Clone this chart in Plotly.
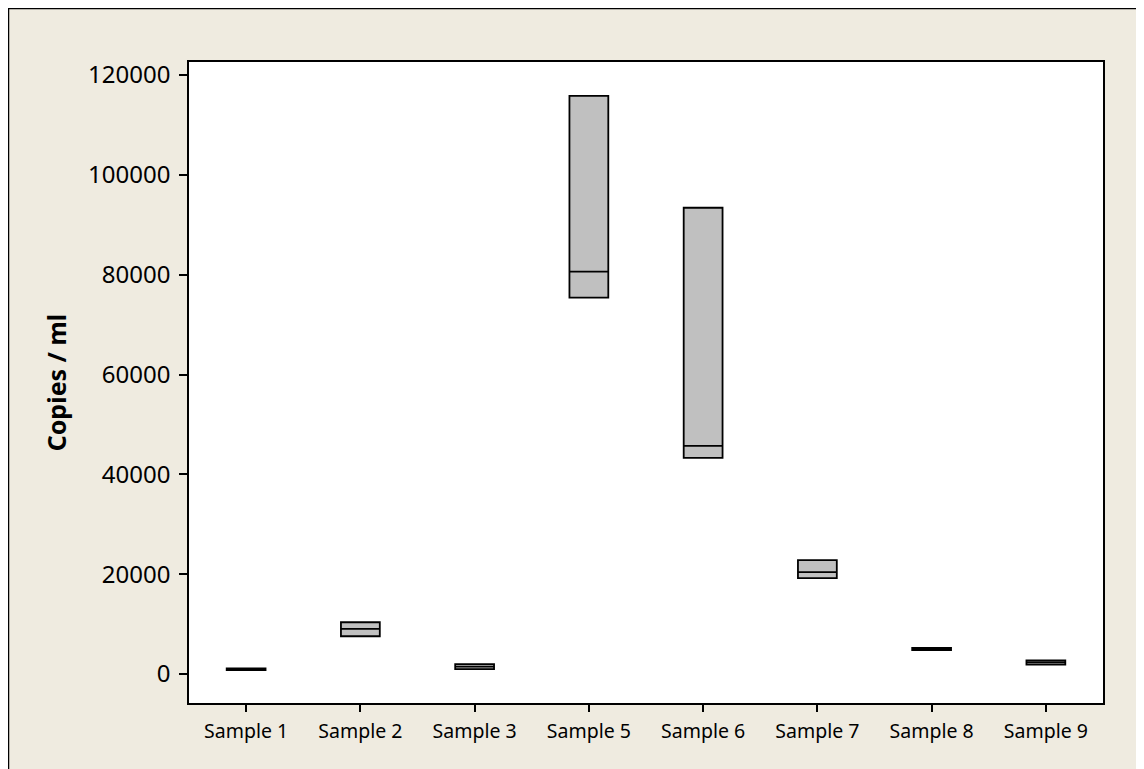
import plotly.graph_objects as go

categories = ["Sample 1", "Sample 2", "Sample 3", "Sample 5", "Sample 6", "Sample 7", "Sample 8", "Sample 9"]
q1_values = [780, 7570, 1000, 75400, 43300, 19200, 4800, 1870]
median_values = [950, 9030, 1500, 80600, 45700, 20400, 5000, 2350]
q3_values = [1150, 10380, 2000, 115800, 93400, 22800, 5220, 2750]
y_ticks = [0, 20000, 40000, 60000, 80000, 100000, 120000]

FONT = "Noto Sans, DejaVu Sans, sans-serif"

# figure is placed 8px from page edges (default body margin)
W, H = 1136, 761
L, T, R, B = 181, 54, 41, 66
pw, ph = W - L - R, H - T - B

fig = go.Figure()
fig.add_trace(go.Box(
    x=categories,
    q1=q1_values,
    median=median_values,
    q3=q3_values,
    lowerfence=q1_values,
    upperfence=q3_values,
    fillcolor="#C0C0C0",
    line=dict(color="black", width=1.8),
    width=0.34,
    boxpoints=False,
    hoverinfo="skip",
    showlegend=False,
))

fig.add_shape(type="rect", xref="paper", yref="paper",
              x0=-(L - 0.5) / pw, x1=1.3, y0=-0.3, y1=(ph + T - 0.5) / ph,
              line=dict(color="black", width=1.5), fillcolor="rgba(0,0,0,0)", layer="below")

fig.update_layout(
    width=W, height=H,
    paper_bgcolor="#EFEBE0",
    plot_bgcolor="white",
    margin=dict(l=L, r=R, t=T, b=B),
    font=dict(family=FONT, color="black"),
)
fig.update_xaxes(
    type="category",
    range=[-0.5, 7.5],
    showline=True, mirror=True, linecolor="black", linewidth=1.5,
    ticks="outside", ticklen=7, tickwidth=1.5, tickcolor="black",
    tickfont=dict(size=19.5, family=FONT),
    ticklabelstandoff=3,
    showgrid=False, zeroline=False,
)
fig.update_yaxes(
    range=[-5800, 122600],
    tickvals=y_ticks,
    ticktext=[str(v) for v in y_ticks],
    showline=True, mirror=True, linecolor="black", linewidth=1.5,
    ticks="outside", ticklen=8, tickwidth=1.5, tickcolor="black",
    tickfont=dict(size=24, family=FONT),
    ticklabelstandoff=4,
    showgrid=False, zeroline=False,
    title=dict(text="<b>Copies / ml</b>", font=dict(size=25, family=FONT), standoff=14),
)

fig.write_html("out.html")
